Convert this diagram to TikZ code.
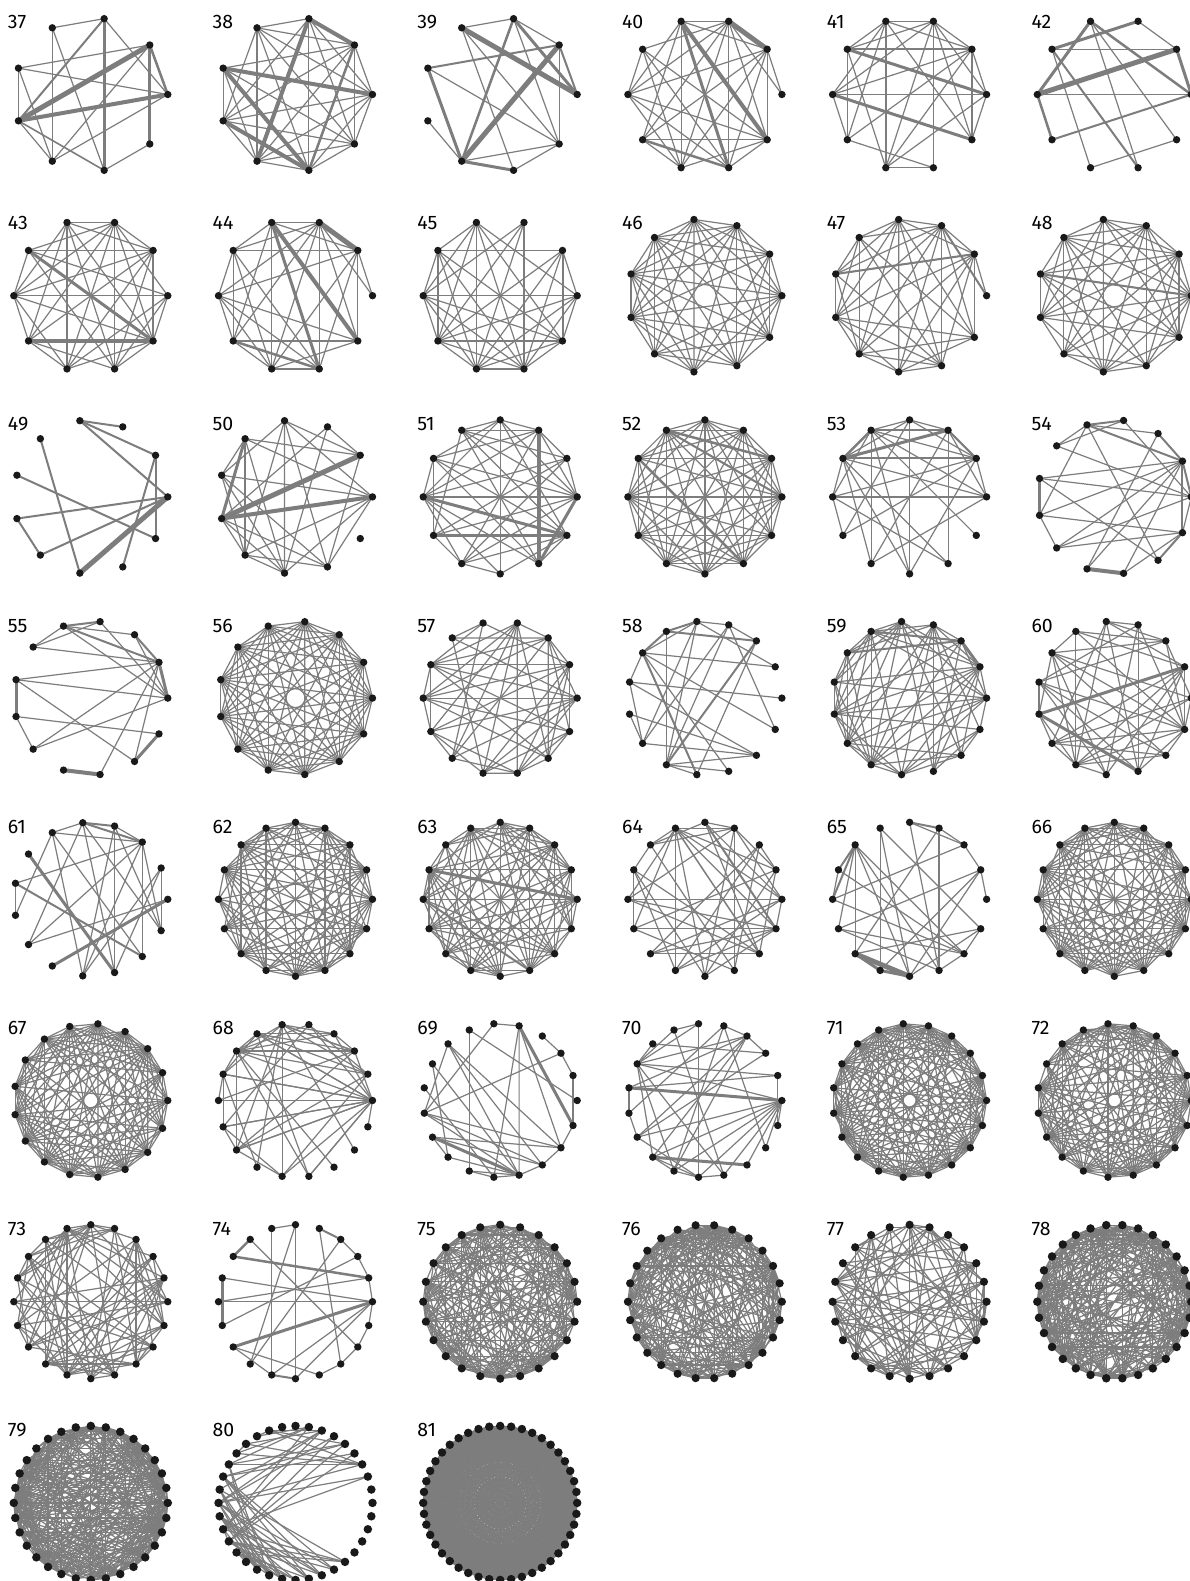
\documentclass[tikz,border=0pt]{standalone}
\usepackage{fontspec}
\setmainfont{Fira Sans}
\definecolor{edgegray}{RGB}{125,125,125}
\definecolor{dotblack}{RGB}{25,25,25}
\makeatletter
\newcommand\gexclcheck[3]{%
  \def\gskip{0}%
  \edef\gtmp{\noexpand\in@{,#2,}{,#1,}}\gtmp
  \ifin@\def\gskip{1}\fi
  \edef\gtmp{\noexpand\in@{,#3,}{,#1,}}\gtmp
  \ifin@\def\gskip{1}\fi}
\makeatother
\tikzset{
  edge/.style={draw=edgegray, line width=1.2pt},
  dot/.style={circle, fill=dotblack, inner sep=0pt, minimum size=7.4pt},
  glabel/.style={font=\fontsize{19.5}{19.5}\selectfont, text=black, anchor=base west, inner sep=0pt}
}
\newcommand\gsetup[5]{%
  \pgfmathsetmacro\gcx{90.8+204.7*#2}%
  \pgfmathsetmacro\gcy{94.5+201.2*#3}%
  \pgfmathtruncatemacro\gnm{#4-1}%
  \foreach \k in {0,...,\gnm}{%
    \coordinate (g#1-\k) at ({\gcx+77*cos(360*\k/#4)},{\gcy-77*sin(360*\k/#4)});}%
  \node[glabel] (lab#1) at ({\gcx-83},{\gcy-66}) {#5};}
\newcommand\gedges[2]{%
  \foreach \a/\b/\w in {#2}{\draw[edge, line width=\w pt] (g#1-\a) -- (g#1-\b);}}
\newcommand\grand[5]{%
  \pgfmathsetseed{#4}%
  \pgfmathtruncatemacro\gnA{#2-2}%
  \pgfmathtruncatemacro\gnB{#2-1}%
  \foreach \i in {0,...,\gnA}{%
    \pgfmathtruncatemacro\gjs{\i+1}%
    \foreach \j in {\gjs,...,\gnB}{%
      \pgfmathsetmacro\grr{rnd}%
      \gexclcheck{#5}{\i}{\j}%
      \ifnum\gskip=0
        \ifdim\grr pt<#3pt
          \draw[edge] (g#1-\i) -- (g#1-\j);
        \fi
      \fi}}}
% random edges between two index ranges
\newcommand\granb[7]{%
  \pgfmathsetseed{#7}%
  \foreach \i in {#2,...,#3}{%
    \foreach \j in {#4,...,#5}{%
      \pgfmathsetmacro\grr{rnd}%
      \ifdim\grr pt<#6pt
        \draw[edge] (g#1-\i) -- (g#1-\j);
      \fi}}}
\newcommand\gdots[3][7.4]{%
  \pgfmathtruncatemacro\gnm{#3-1}%
  \foreach \k in {0,...,\gnm}{\node[dot, minimum size=#1pt] (d#2-\k) at (g#2-\k) {};}}
\begin{document}
\begin{tikzpicture}[x=1pt,y=-1pt]
\fill[white] (0,0) rectangle (1190,1581);
\useasboundingbox (0,0) rectangle (1190,1581);
% ---------- row 0
\gsetup{37}{0}{0}{9}{37}
\gedges{37}{2/3/1.2, 3/6/1.6, 2/7/3, 2/0/1.2, 2/5/2, 5/1/5, 5/0/4, 5/4/1.6, 5/6/1.2, 5/7/1.6, 4/1/1.2, 4/0/1.2, 4/6/1.2, 1/8/3, 1/0/2.5, 1/6/1.2, 3/7/1.2, 7/8/1.2, 6/0/1.2}
\gdots{37}{9}
\gsetup{38}{1}{0}{9}{38}
\grand{38}{9}{0.9}{38}{}
\gedges{38}{4/0/4, 4/7/4, 5/7/4, 2/6/4, 2/1/4, 1/7/2.5}
\gdots{38}{9}
\gsetup{39}{2}{0}{9}{39}
\gedges{39}{3/2/1.2, 3/0/5, 2/6/2.5, 2/1/1.2, 2/0/3, 2/8/1.2, 1/4/2, 1/6/5, 1/0/2, 1/8/1.2, 4/6/3, 4/8/1.2, 5/6/1.2, 6/7/3, 6/8/1.2, 7/8/1.2, 3/8/1.2, 3/7/1.2}
\gdots{39}{9}
\gsetup{40}{3}{0}{10}{40}
\grand{40}{10}{0.85}{40}{0}
\gedges{40}{0/1/1.2, 0/2/1.2, 3/9/4, 3/8/3, 2/1/5, 6/8/2.5}
\gdots{40}{10}
\gsetup{41}{4}{0}{10}{41}
\grand{41}{10}{0.68}{41}{8}
\gedges{41}{8/2/1.2, 8/6/1.2, 8/7/1.2, 4/0/3, 5/9/3, 4/1/2, 3/7/2}
\gdots{41}{10}
\gsetup{42}{5}{0}{10}{42}
\gedges{42}{4/2/3, 4/1/1.2, 5/3/3, 5/1/5, 5/0/1.2, 5/6/2.5, 3/0/2.5, 3/8/1.2, 2/1/1.2, 1/0/3, 6/0/2, 4/7/1.2, 4/8/2, 7/9/1.2, 3/9/1.2}
\gdots{42}{10}
% ---------- row 1
\gsetup{43}{0}{1}{10}{43}
\grand{43}{10}{0.85}{43}{}
\gedges{43}{4/9/3, 6/9/4}
\gdots{43}{10}
\gsetup{44}{1}{1}{10}{44}
\grand{44}{10}{0.8}{44}{0}
\gedges{44}{0/1/1.2, 0/2/1.2, 2/1/5, 3/8/3, 3/9/4, 6/8/2.5}
\gdots{44}{10}
\gsetup{45}{2}{1}{10}{45}
\grand{45}{10}{0.93}{45}{2}
\gedges{45}{2/5/1.2, 2/6/1.2, 2/7/1.2, 2/8/1.5, 1/9/2}
\gdots{45}{10}
\gsetup{46}{3}{1}{11}{46}
\grand{46}{11}{0.95}{46}{}
\gdots{46}{11}
\gsetup{47}{4}{1}{11}{47}
\grand{47}{11}{0.88}{47}{0}
\gedges{47}{0/1/1.2, 0/2/2, 5/1/2}
\gdots{47}{11}
\gsetup{48}{5}{1}{11}{48}
\grand{48}{11}{0.88}{48}{}
\gedges{48}{5/0/2}
\gdots{48}{11}
% ---------- row 2
\gsetup{49}{0}{2}{11}{49}
\gedges{49}{3/2/2, 3/1/2, 3/0/2, 4/8/2, 5/10/2, 6/0/2, 6/7/2, 7/0/2, 8/0/5, 9/1/2, 1/10/2}
\gdots{49}{11}
\gsetup{50}{1}{2}{11}{50}
\grand{50}{11}{0.55}{50}{10}
\gedges{50}{6/1/5, 6/0/4, 6/4/3}
\gdots{50}{11}
\gsetup{51}{2}{2}{12}{51}
\grand{51}{12}{0.65}{51}{}
\gedges{51}{2/10/4, 7/11/3, 6/11/3, 0/10/3}
\gdots{51}{12}
\gsetup{52}{3}{2}{12}{52}
\grand{52}{12}{0.95}{52}{}
\gedges{52}{4/1/2.5, 4/0/2, 5/10/2.5}
\gdots{52}{12}
\gsetup{53}{4}{2}{12}{53}
\gedges{53}{1/2/2, 1/3/1.2, 1/4/1.2, 1/5/2, 2/3/1.2, 2/4/2.5, 2/5/3, 3/4/1.2, 3/5/1.2, 4/5/2.5, 0/1/1.2, 0/2/1.2, 0/4/1.2, 0/6/1.2, 1/6/1.2, 5/6/1.2, 6/7/1.2, 6/10/1.2, 6/4/1.2, 7/1/1.2, 4/8/1.2, 3/9/1.2, 2/10/1.2, 5/9/1.2, 5/10/1.2, 4/11/1.2, 8/0/1.2, 8/2/1.2, 9/4/1.2, 5/8/1.2, 0/5/1.2, 7/3/1.2, 9/1/1.2}
\gdots{53}{12}
\gsetup{54}{5}{2}{13}{54}
\gedges{54}{4/3/2, 5/3/1.2, 5/4/1.2, 4/2/1.2, 4/1/2, 4/7/1.2, 4/11/1.2, 2/1/2, 3/0/1.2, 6/1/1.2, 6/0/1.2, 6/7/3, 6/11/1.2, 7/1/1.2, 7/8/1.2, 7/12/1.2, 8/12/1.2, 8/1/1.2, 9/10/4, 9/1/1.2, 10/1/1.2, 11/12/2, 12/1/2, 12/0/1.2, 10/12/1.2, 1/0/2, 8/0/1.2, 9/2/1.2, 5/0/1.2}
\gdots{54}{13}
% ---------- row 3
\gsetup{55}{0}{3}{13}{55}
\gedges{55}{4/3/2, 4/5/1.2, 5/3/1.2, 4/2/1.2, 4/1/2, 4/0/1.2, 5/1/1.2, 3/0/1.2, 2/1/2, 1/0/3, 6/7/3, 6/1/1.2, 6/0/1.2, 6/11/1.2, 7/12/1.2, 7/8/1.2, 8/1/1.2, 8/0/1.2, 9/10/4, 11/12/3, 10/1/1.2, 11/1/1.2, 2/0/1.2}
\gdots{55}{13}
\gsetup{56}{1}{3}{13}{56}
\grand{56}{13}{1}{56}{}
\gdots{56}{13}
\gsetup{57}{2}{3}{14}{57}
\grand{57}{14}{0.6}{57}{}
\gdots{57}{14}
\gsetup{58}{3}{3}{15}{58}
\gedges{58}{5/4/2, 5/6/2, 5/2/2, 4/6/1.2, 4/3/1.2, 4/10/1.2, 3/2/1.2, 3/10/1.2, 3/14/1.2, 2/10/2, 2/11/1.2, 6/11/2, 6/14/1.2, 6/1/1.2, 5/10/1.2, 7/0/1.2, 7/13/1.2, 7/9/1.2, 8/9/1.2, 8/13/1.2, 9/13/1.2, 9/3/1.2, 10/13/1.2, 10/11/1.2, 12/6/1.2, 4/1/1.2, 7/6/1.2, 9/4/1.2, 10/12/1.2}
\gdots{58}{15}
\gsetup{59}{4}{3}{15}{59}
\grand{59}{15}{0.55}{59}{}
\gedges{59}{5/2/2, 2/1/3, 6/2/2}
\gdots{59}{15}
\gsetup{60}{5}{3}{15}{60}
\grand{60}{15}{0.48}{60}{}
\gedges{60}{8/1/3, 8/12/3}
\gdots{60}{15}
% ---------- row 4
\gsetup{61}{0}{4}{15}{61}
\gedges{61}{4/3/2, 4/2/2, 3/2/1.2, 5/4/1.2, 5/11/1.2, 5/13/1.2, 4/9/1.2, 4/12/1.2, 3/12/1.2, 3/14/1.2, 2/7/1.2, 2/9/1.2, 2/11/1.2, 2/14/1.2, 1/14/1.2, 6/12/3, 7/13/2, 7/8/1.2, 8/5/1.2, 9/0/1.2, 10/0/3, 5/2/1.2, 1/12/1.2, 13/2/1.2, 11/1/1.2, 3/11/1.2, 4/14/1.2}
\gdots{61}{15}
\gsetup{62}{1}{4}{16}{62}
\grand{62}{16}{0.75}{62}{}
\gdots{62}{16}
\gsetup{63}{2}{4}{16}{63}
\grand{63}{16}{0.6}{63}{}
\gedges{63}{7/0/3, 8/13/2}
\gdots{63}{16}
\gsetup{64}{3}{4}{16}{64}
\grand{64}{16}{0.4}{64}{}
\gedges{64}{4/15/2, 5/14/1.5}
\gdots{64}{16}
\gsetup{65}{4}{4}{16}{65}
\gedges{65}{4/3/2, 4/2/1.2, 3/2/1.2, 3/13/1.2, 2/1/1.2, 1/0/1.2, 5/11/1.2, 5/15/1.2, 6/7/2, 6/8/2, 7/8/1.2, 6/9/1.2, 6/12/1.2, 6/13/1.2, 6/14/1.2, 6/10/1.2, 10/12/5, 11/12/3, 10/11/3, 9/1/1.2, 9/14/1.2, 10/15/1.2, 12/15/1.2, 13/14/1.2, 14/15/1.2, 12/1/1.2, 11/1/1.2, 3/10/1.2, 7/14/1.2, 8/14/1.2, 4/13/1.2, 2/8/1.2, 9/13/1.2, 5/12/1.2}
\gdots{65}{16}
\gsetup{66}{5}{4}{16}{66}
\grand{66}{16}{0.85}{66}{}
\gdots{66}{16}
% ---------- row 5
\gsetup{67}{0}{5}{17}{67}
\grand{67}{17}{0.9}{67}{}
\gdots{67}{17}
\gsetup{68}{1}{5}{18}{68}
\grand{68}{18}{0.3}{68}{12,15,16,17}
\gedges{68}{0/2/1.2, 0/3/1.2, 0/4/1.2, 0/6/1.2, 0/7/1.2, 0/8/1.2, 0/9/1.2, 0/10/1.2, 0/11/1.2, 0/13/1.2, 0/14/1.2, 5/1/1.2, 5/2/1.2, 5/3/1.2, 5/8/1.2, 5/11/1.2, 5/13/1.2, 17/0/1.2, 16/5/1.2, 15/7/1.2, 12/5/1.2, 12/8/1.2}
\gdots{68}{18}
\gsetup{69}{2}{5}{19}{69}
\gedges{69}{5/4/1.2, 5/10/1.2, 6/13/1.2, 4/18/3, 4/17/1.2, 4/14/1.2, 2/10/1.2, 2/1/1.2, 7/16/1.2, 7/15/1.2, 7/10/1.2, 11/15/3, 11/17/1.2, 11/16/1.2, 10/16/1.2, 10/17/1.2, 13/14/1.2, 14/15/1.2, 15/16/1.2, 16/17/1.2, 17/18/1.2, 1/18/1.2, 8/15/1.2, 9/14/1.2, 12/15/1.2, 3/2/1.2, 4/15/1.2, 6/0/1.2, 8/12/1.2, 10/15/1.2, 11/12/1.2, 13/15/1.2, 7/17/1.2}
\gdots{69}{19}
\gsetup{70}{3}{5}{19}{70}
\gedges{70}{9/0/3, 12/16/3, 8/7/1.2, 8/6/1.2, 8/5/1.2, 8/3/1.2, 8/1/1.2, 8/0/1.2, 8/13/1.2, 8/12/1.2, 6/5/1.2, 4/3/1.2, 3/2/1.2, 4/17/1.2, 3/13/1.2, 3/11/1.2, 9/10/1.2, 10/11/1.2, 11/0/1.2, 12/0/1.2, 13/0/1.2, 14/0/1.2, 15/0/1.2, 16/0/1.2, 14/13/1.2, 14/15/1.2, 14/12/1.2, 17/0/1.2, 18/0/1.2, 1/18/1.2, 5/14/1.2, 6/15/1.2, 9/3/1.2, 11/2/1.2, 12/3/1.2, 10/4/1.2, 13/4/1.2, 7/2/1.2, 15/8/1.2, 12/13/1.2, 9/1/1.2, 11/14/1.2}
\gdots{70}{19}
\gsetup{71}{4}{5}{19}{71}
\grand{71}{19}{0.82}{71}{}
\gdots{71}{19}
\gsetup{72}{5}{5}{19}{72}
\grand{72}{19}{0.72}{72}{}
\gdots{72}{19}
% ---------- row 6
\gsetup{73}{0}{6}{20}{73}
\grand{73}{20}{0.5}{73}{}
\gdots{73}{20}
\gsetup{74}{1}{6}{20}{74}
\gedges{74}{6/5/1.2, 7/8/2.5, 8/1/2.5, 9/11/2.5, 10/0/1.2, 10/1/1.2, 12/0/3, 4/3/2, 3/2/1.2, 2/1/1.2, 1/0/1.2, 5/13/1.2, 5/15/1.2, 6/14/1.2, 9/0/1.2, 12/16/1.2, 14/15/2, 16/17/1.2, 17/18/1.2, 18/19/1.2, 19/0/1.2, 0/14/1.2, 0/15/1.2, 7/18/1.2, 4/17/1.2, 12/14/1.2, 11/2/1.2, 13/3/1.2}
\gdots{74}{20}
\gsetup{75}{2}{6}{24}{75}
\grand{75}{24}{0.7}{75}{}
\gdots[8.2]{75}{24}
\gsetup{76}{3}{6}{26}{76}
\grand{76}{26}{0.6}{76}{}
\gdots[8.2]{76}{26}
\gsetup{77}{4}{6}{24}{77}
\grand{77}{24}{0.35}{77}{}
\gdots[8.2]{77}{24}
\gsetup{78}{5}{6}{30}{78}
\grand{78}{30}{0.55}{78}{}
\gdots[8.5]{78}{30}
% ---------- row 7
\gsetup{79}{0}{7}{32}{79}
\grand{79}{32}{0.6}{79}{}
\gdots[8.5]{79}{32}
\gsetup{80}{1}{7}{36}{80}
\granb{80}{11}{21}{2}{8}{0.5}{80}
\granb{80}{15}{22}{24}{31}{0.5}{81}
\gedges{80}{12/11/1.2, 14/13/1.2, 20/21/1.2, 22/23/1.2}
\gdots[8.5]{80}{36}
\gsetup{81}{2}{7}{44}{81}
\begin{scope}[edge/.style={draw=edgegray, line width=0.8pt}]
\grand{81}{44}{1}{81}{}
\end{scope}
\gdots[8.5]{81}{44}
\end{tikzpicture}
\end{document}
